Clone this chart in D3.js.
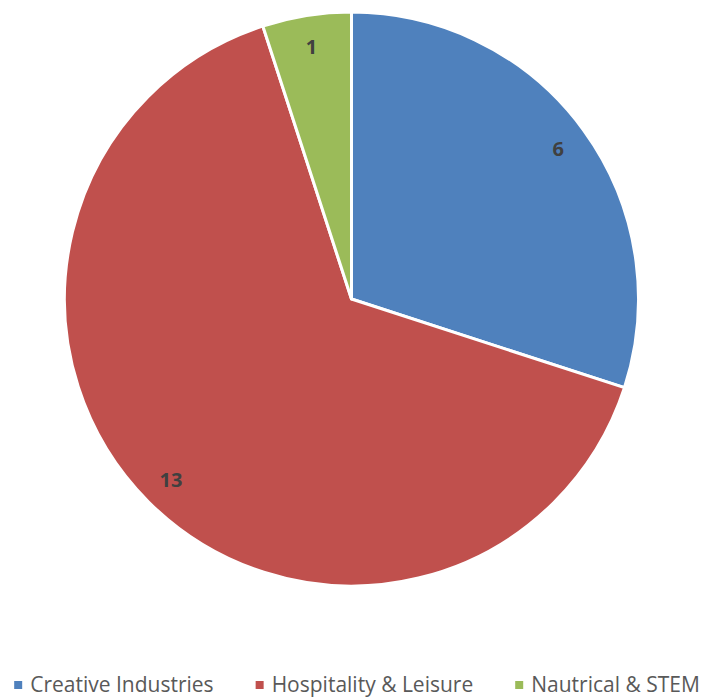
<!DOCTYPE html>
<html>
<head>
<meta charset="utf-8">
<script src="https://cdn.jsdelivr.net/npm/d3@7"></script>
<style>
  body { margin: 0; background: #fff; }
  svg { display: block; }
</style>
</head>
<body>
<svg width="705" height="699"></svg>
<script>
var categories = ["Creative Industries", "Hospitality & Leisure", "Nautrical & STEM"];
var values = [6, 13, 1];
var colors = ["#4F81BD", "#C0504D", "#9BBB59"];

var svg = d3.select("svg"),
	cx = 351.5, cy = 299, radius = 287;

var pie = d3.pie().sort(null).value(function(d) { return d.value; });
var arc = d3.arc().innerRadius(0).outerRadius(radius);
var labelArc = d3.arc().innerRadius(radius * 0.89).outerRadius(radius * 0.89);

var data = categories.map(function(c, i) { return {name: c, value: values[i], color: colors[i]}; });

var g = svg.append("g").attr("transform", "translate(" + cx + "," + cy + ")");

var slice = g.selectAll(".slice")
	.data(pie(data))
	.enter().append("g")
	  .attr("class", "slice");

slice.append("path")
	.attr("d", arc)
	.attr("fill", function(d) { return d.data.color; })
	.attr("stroke", "#fff")
	.attr("stroke-width", 3)
	.attr("stroke-linejoin", "round");

slice.append("text")
	.attr("transform", function(d) { return "translate(" + labelArc.centroid(d) + ")"; })
	.attr("text-anchor", "middle")
	.attr("dy", "0.35em")
	.style("font", "bold 20px 'Open Sans', sans-serif")
	.attr("fill", "#404040")
	.text(function(d) { return d.data.value; });

// legend
var legend = svg.append("g").attr("class", "legend");
var x = 0;
var item = legend.selectAll(".item")
	.data(data)
	.enter().append("g")
	  .attr("class", "item");

item.append("rect")
	.attr("width", 8).attr("height", 8)
	.attr("y", -4)
	.attr("fill", function(d) { return d.color; });

item.append("text")
	.attr("x", 16)
	.attr("dy", "0.35em")
	.style("font", "21px 'Open Sans', sans-serif")
	.attr("fill", "#595959")
	.text(function(d) { return d.name; });

item.each(function() {
	var w = this.getBBox().width;
	d3.select(this).attr("transform", "translate(" + x + ",0)");
	x += w + 42;
});
var total = x - 42;
legend.attr("transform", "translate(" + ((714 - total) / 2) + ",685)");
</script>
</body>
</html>
